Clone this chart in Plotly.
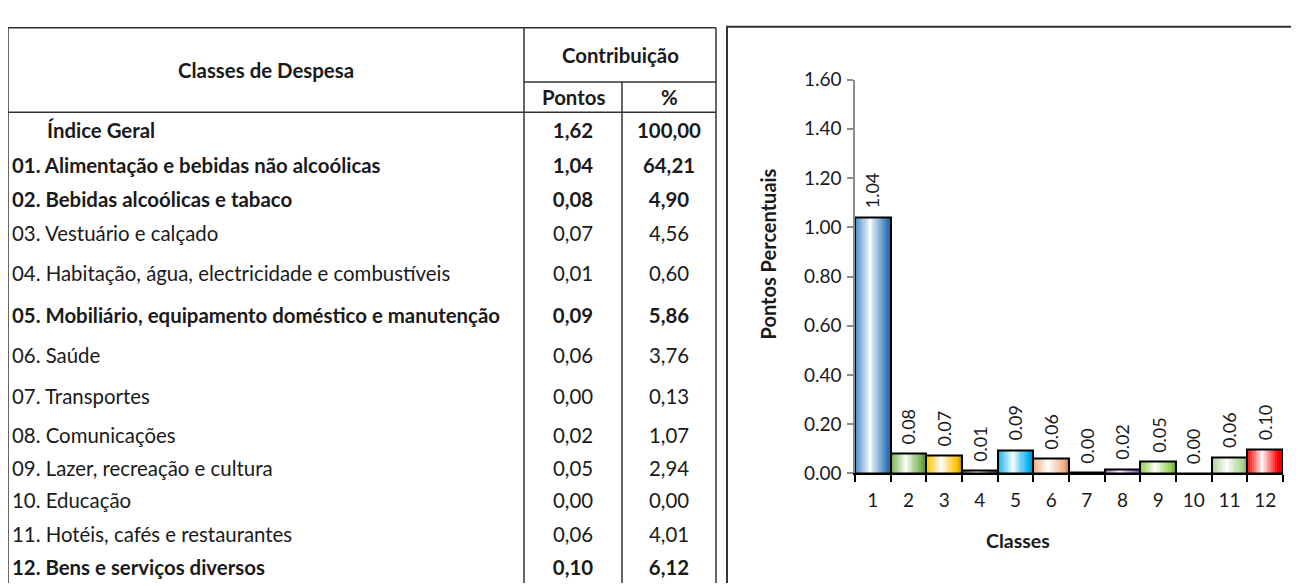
"""Contribuição das classes de despesa para o índice geral: tabela + gráfico de barras."""

import plotly.graph_objects as go

# ---- data -------------------------------------------------------------------
CLASSES = [
    "Índice Geral",
    "01. Alimentação e bebidas não alcoólicas",
    "02. Bebidas alcoólicas e tabaco",
    "03. Vestuário e calçado",
    "04. Habitação, água, electricidade e combustíveis",
    "05. Mobiliário, equipamento doméstico e manutenção",
    "06. Saúde",
    "07. Transportes",
    "08. Comunicações",
    "09. Lazer, recreação e cultura",
    "10. Educação",
    "11. Hotéis, cafés e restaurantes",
    "12. Bens e serviços diversos",
]
PONTOS = ["1,62", "1,04", "0,08", "0,07", "0,01", "0,09", "0,06",
          "0,00", "0,02", "0,05", "0,00", "0,06", "0,10"]
PERCENT = ["100,00", "64,21", "4,90", "4,56", "0,60", "5,86", "3,76",
           "0,13", "1,07", "2,94", "0,00", "4,01", "6,12"]
BOLD = [True, True, True, False, False, True, False,
        False, False, False, False, False, True]

BAR_CLASSES = ["1", "2", "3", "4", "5", "6", "7", "8", "9", "10", "11", "12"]
BAR_VALUES = [1.04, 0.079, 0.074, 0.010, 0.095, 0.061, 0.002,
              0.017, 0.048, 0.0, 0.065, 0.099]
BAR_LABELS = [p.replace(",", ".") for p in PONTOS[1:]]

# ---- style / layout ---------------------------------------------------------
W, H = 1299, 586
PAGE_PAD = 8  # default <body> margin of the html page
FONT = "Lato"
INK = "#1a1a1a"
GRID = "#333333"

BAR_COLORS = ["#3A80C2", "#70AD47", "#FFC000", "#595959", "#00B0F0", "#F4B183",
              "#404040", "#9966CC", "#92D050", "#BFBFBF", "#A9D18E", "#FF0000"]

# table geometry (window pixels)
X_LEFT, X_C1, X_C2, X_RIGHT = 8, 524, 622, 716
Y_TOP, Y_SUB, Y_HEAD = 16, 72.5, 104
ROW_Y = [125, 162, 197, 233, 274, 318, 360, 402, 443, 477, 511, 546, 580]
TEXT_X = 12
INDENT_X = 47
TABLE_SIZE = 20.4

# chart plot area (window pixels)
PLOT_L, PLOT_R, PLOT_T, PLOT_B = 855, 1283, 70, 480


def _shade(hex_color, t):
    """t>0 blends towards white, t<0 towards black."""
    h = hex_color.lstrip("#")
    rgb = [int(h[i:i + 2], 16) for i in (0, 2, 4)]
    if t >= 0:
        rgb = [round(c + (255 - c) * t) for c in rgb]
    else:
        rgb = [round(c * (1 + t)) for c in rgb]
    return "rgb({},{},{})".format(*rgb)


def _bold(s, flag):
    return f"<b>{s}</b>" if flag else s


def _gradient_layers():
    """Nested strips (left, right, shade) that mimic Excel's horizontal bar gradient."""
    peak, t_left, t_right = 0.42, 0.1, -0.22
    out = [(0.0, 1.0, t_right)]
    levels = [-0.12, 0.0, 0.12, 0.24, 0.36, 0.48, 0.6, 0.7, 0.8, 0.88, 0.94, 0.98]
    for lv in levels:
        left = max(0.0, (lv - t_left) * peak / (1 - t_left))
        right = peak + (1 - lv) * (1 - peak) / (1 - t_right)
        out.append((left, min(1.0, right), lv))
    return out


fig = go.Figure()

# ---- bars -------------------------------------------------------------------
for left, right, t in _gradient_layers():
    fig.add_trace(go.Bar(
        x=BAR_CLASSES, y=BAR_VALUES,
        width=right - left, offset=left - 0.5,
        marker=dict(color=[_shade(c, t) for c in BAR_COLORS], line=dict(width=0)),
        hoverinfo="skip", showlegend=False,
    ))
fig.add_trace(go.Bar(
    x=BAR_CLASSES, y=BAR_VALUES, width=1.0,
    marker=dict(color="rgba(0,0,0,0)", line=dict(color="#000000", width=2)),
    showlegend=False,
    hovertemplate="Classe %{x}: %{y:.2f}<extra></extra>",
))

for i, (val, lab) in enumerate(zip(BAR_VALUES, BAR_LABELS)):
    fig.add_annotation(
        x=i, y=val, xref="x", yref="y", text=lab, textangle=-90,
        showarrow=False, yanchor="bottom", xanchor="center", yshift=7,
        font=dict(family=FONT, size=18, color=INK),
    )

# ---- table text ------------------------------------------------------------
desc_x = [INDENT_X if i == 0 else TEXT_X for i in range(len(CLASSES))]
for xs, texts, pos in [
    (desc_x, CLASSES, "middle right"),
    ([(X_C1 + X_C2) / 2] * len(PONTOS), PONTOS, "middle center"),
    ([(X_C2 + X_RIGHT) / 2] * len(PERCENT), PERCENT, "middle center"),
]:
    fig.add_trace(go.Scatter(
        x=xs, y=ROW_Y, mode="text",
        text=[_bold(s, b) for s, b in zip(texts, BOLD)],
        textposition=pos,
        textfont=dict(family=FONT, size=TABLE_SIZE, color=INK),
        xaxis="x2", yaxis="y2", cliponaxis=False,
        hoverinfo="skip", showlegend=False,
    ))

# header cells
headers = [
    ("Classes de Despesa", (X_LEFT + X_C1) / 2, (Y_TOP + Y_HEAD) / 2),
    ("Contribuição", (X_C1 + X_RIGHT) / 2, (Y_TOP + Y_SUB) / 2),
    ("Pontos", (X_C1 + X_C2) / 2, (Y_SUB + Y_HEAD) / 2),
    ("%", (X_C2 + X_RIGHT) / 2, (Y_SUB + Y_HEAD) / 2),
]
for txt, hx, hy in headers:
    fig.add_annotation(
        x=hx, y=hy, xref="x2", yref="y2", text=f"<b>{txt}</b>", showarrow=False,
        font=dict(family=FONT, size=TABLE_SIZE, color=INK),
    )

# table rules
line = dict(color=GRID, width=1.5)
for x0, y0, x1, y1 in [
    (X_LEFT, Y_TOP, X_RIGHT, Y_TOP),
    (X_LEFT, Y_TOP, X_LEFT, H + 40),
    (X_RIGHT, Y_TOP, X_RIGHT, H + 40),
    (X_C1, Y_TOP, X_C1, H + 40),
    (X_C2, Y_SUB, X_C2, H + 40),
    (X_C1, Y_SUB, X_RIGHT, Y_SUB),
    (X_LEFT, Y_HEAD, X_RIGHT, Y_HEAD),
]:
    fig.add_shape(type="line", x0=x0, y0=y0, x1=x1, y1=y1,
                  xref="x2", yref="y2", line=line)

# chart frame
fig.add_shape(type="rect", x0=727, y0=15, x1=W + 40, y1=H + 40,
              xref="x2", yref="y2", line=dict(color=GRID, width=2),
              fillcolor="rgba(0,0,0,0)", layer="below")

# axis titles
fig.add_annotation(x=768, y=252, xref="x2", yref="y2", text="<b>Pontos Percentuais</b>",
                   textangle=-90, showarrow=False,
                   font=dict(family=FONT, size=20, color=INK))
fig.add_annotation(x=1018, y=550, xref="x2", yref="y2", text="<b>Classes</b>",
                   showarrow=False, font=dict(family=FONT, size=19.5, color=INK))

fig.update_layout(
    width=W, height=H,
    margin=dict(l=0, r=0, t=0, b=0),
    paper_bgcolor="white",
    plot_bgcolor="rgba(0,0,0,0)",
    barmode="overlay",
    bargap=0,
    showlegend=False,
    font=dict(family=FONT, color=INK),
    xaxis=dict(
        domain=[(PLOT_L - PAGE_PAD) / W, (PLOT_R - PAGE_PAD) / W], type="category",
        showgrid=False, zeroline=False,
        showline=True, linecolor="#000000", linewidth=2,
        ticks="outside", tickson="boundaries", ticklen=7,
        tickcolor="#000000", tickwidth=2,
        tickfont=dict(family=FONT, size=19, color=INK),
        ticklabelstandoff=9,
    ),
    yaxis=dict(
        domain=[(H - (PLOT_B - PAGE_PAD)) / H, (H - (PLOT_T - PAGE_PAD)) / H],
        range=[0, 1.6],
        tickvals=[0, 0.2, 0.4, 0.6, 0.8, 1.0, 1.2, 1.4, 1.6],
        tickformat=".2f",
        showgrid=False, zeroline=False,
        showline=True, linecolor="#8c8c8c", linewidth=1.5,
        ticks="outside", ticklen=6, tickcolor="#8c8c8c", tickwidth=1.5,
        tickfont=dict(family=FONT, size=19, color=INK),
        ticklabelstandoff=2,
    ),
    # overlay axes in window pixels, used for the table and titles
    xaxis2=dict(domain=[0, 1], range=[PAGE_PAD, W + PAGE_PAD], anchor="y2",
                visible=False, fixedrange=True),
    yaxis2=dict(domain=[0, 1], range=[H + PAGE_PAD, PAGE_PAD], anchor="x2",
                visible=False, fixedrange=True),
)

fig.write_html("out.html")
